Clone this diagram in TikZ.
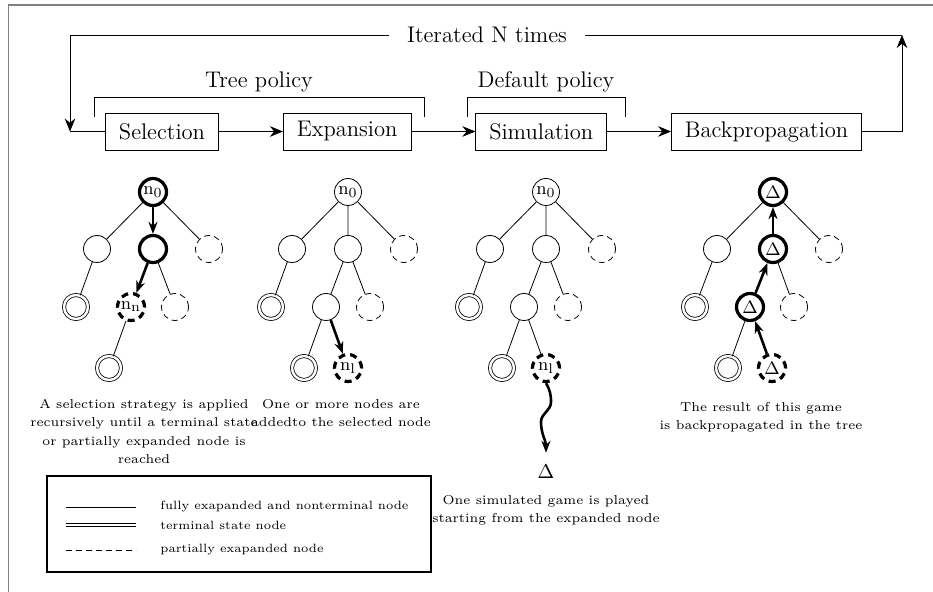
\documentclass[tikz,border=0pt]{standalone}
\usetikzlibrary{arrows.meta,positioning}
\begin{document}
\begin{tikzpicture}[x=0.5pt,y=-0.5pt,
    big/.style={font=\fontsize{11.3}{13.5}\selectfont},
    stage/.style={big,draw,rectangle,minimum height=18.5pt,inner xsep=6.75pt},
    st/.style={circle,draw,minimum size=13.5pt,inner sep=0pt,font=\fontsize{9.5}{11}\selectfont},
    term/.style={st,double,double distance=1.2pt,minimum size=12pt},
    part/.style={st,dash pattern=on 3pt off 2pt},
    hot/.style={st,line width=1.6pt},
    newleaf/.style={st,line width=1.6pt,dash pattern=on 3.5pt off 2.5pt},
    go/.style={-{Stealth[length=6pt,width=4.5pt]},line width=1.3pt},
    flow/.style={-{Stealth[length=6.5pt,width=5.3pt]}},
    note/.style={align=center,inner sep=0pt,font=\fontsize{6.45}{9.15}\selectfont},
    key/.style={anchor=west,inner sep=0pt,font=\fontsize{6}{8}\selectfont}]
  \useasboundingbox (0,0) rectangle (933,592);
  \draw[gray,line width=0.75pt] (8.5,592) -- (8.5,5) -- (933,5);

  % the four steps
  \node[stage] (sel) at (162,131.5) {Selection};
  \node[stage,right=32pt of sel] (exp) {Expansion};
  \node[stage,right=32pt of exp] (sim) {Simulation};
  \node[stage,right=32pt of sim] (bp) {Backpropagation};
  \draw[flow] (sel) -- (exp);
  \draw[flow] (exp) -- (sim);
  \draw[flow] (sim) -- (bp);

  % loop round the steps
  \node[big,inner xsep=9pt] (iter) at (487,35) {Iterated N times};
  \coordinate (tl) at (70,35);
  \coordinate (tr) at (902,35);
  \draw[flow] (iter.west) -- (tl) -- (tl |- sel.west);
  \draw (tl |- sel.west) -- (sel.west);
  \draw[flow] (bp.east) -- (tr |- bp.east) -- (tr);
  \draw (tr) -- (iter.east);

  % policies
  \draw (94,117) -- (94,97) -- (424,97) -- (424,117);
  \node[big] (tree) at (259,82) {Tree policy};
  \draw (467,117) -- (467,97) -- (625,97) -- (625,117);
  \node[big] (default) at (546,82) {Default policy};

  % selection
  \begin{scope}[shift={(153,0)}]
    \node[hot] (s0) at (0,192) {$\mathrm{n}_0$};
    \node[st] (s1) at (-56,249) {};
    \node[hot] (s2) at (0,249) {};
    \node[part] (s3) at (56,249) {};
    \node[term] (s4) at (-77,307) {};
    \node[newleaf] (s5) at (-22,307) {$\mathrm{n}_\mathrm{n}$};
    \node[part] (s6) at (22,307) {};
    \node[term] (s7) at (-44,368) {};
  \end{scope}
  \draw (s0) -- (s1) (s0) -- (s3) (s1) -- (s4) (s2) -- (s6) (s5) -- (s7);
  \draw[go] (s0) -- (s2);
  \draw[go] (s2) -- (s5);
  \node[note,anchor=north] (c1) at (144,399) {A selection strategy is applied\\recursively until a terminal state\\or partially expanded node is\\reached};

  % expansion
  \begin{scope}[shift={(348,0)}]
    \node[st] (e0) at (0,192) {$\mathrm{n}_0$};
    \node[st] (e1) at (-56,249) {};
    \node[st] (e2) at (0,249) {};
    \node[part] (e3) at (56,249) {};
    \node[term] (e4) at (-77,307) {};
    \node[st] (e5) at (-22,307) {};
    \node[part] (e6) at (22,307) {};
    \node[term] (e7) at (-44,368) {};
    \node[newleaf] (e8) at (0,368) {$\mathrm{n}_\mathrm{l}$};
  \end{scope}
  \draw (e0) -- (e1) (e0) -- (e2) (e0) -- (e3) (e1) -- (e4) (e2) -- (e5) (e2) -- (e6) (e5) -- (e7);
  \draw[go] (e5) -- (e8);
  \node[note,anchor=north] (c2) at (341,399) {One or more nodes are\\addedto the selected node};

  % simulation
  \begin{scope}[shift={(546,0)}]
    \node[st] (m0) at (0,192) {$\mathrm{n}_0$};
    \node[st] (m1) at (-56,249) {};
    \node[st] (m2) at (0,249) {};
    \node[part] (m3) at (56,249) {};
    \node[term] (m4) at (-77,307) {};
    \node[st] (m5) at (-22,307) {};
    \node[part] (m6) at (22,307) {};
    \node[term] (m7) at (-44,368) {};
    \node[newleaf] (m8) at (0,368) {$\mathrm{n}_\mathrm{l}$};
    \node[inner sep=6pt,font=\fontsize{10}{12}\selectfont] (res) at (0,472) {$\Delta$};
  \end{scope}
  \draw (m0) -- (m1) (m0) -- (m2) (m0) -- (m3) (m1) -- (m4) (m2) -- (m5) (m2) -- (m6) (m5) -- (m7) (m5) -- (m8);
  \draw[go] (m8.south) to[out=-60,in=90] (551,402) to[out=-90,in=90] (541,422) to[out=-90,in=90] (res.north);
  \node[note,anchor=north] (c3) at (546,495) {One simulated game is played\\starting from the expanded node};

  % backpropagation
  \begin{scope}[shift={(773,0)}]
    \node[hot] (b0) at (0,192) {$\Delta$};
    \node[st] (b1) at (-56,249) {};
    \node[hot] (b2) at (0,249) {$\Delta$};
    \node[part] (b3) at (56,249) {};
    \node[term] (b4) at (-78,307) {};
    \node[hot] (b5) at (-23,307) {$\Delta$};
    \node[part] (b6) at (21,307) {};
    \node[term] (b7) at (-45,368) {};
    \node[newleaf] (b8) at (-1,368) {$\Delta$};
  \end{scope}
  \draw (b0) -- (b1) (b0) -- (b3) (b1) -- (b4) (b2) -- (b6) (b5) -- (b7);
  \draw[go] (b8) -- (b5);
  \draw[go] (b5) -- (b2);
  \draw[go] (b2) -- (b0);
  \node[note,anchor=north] (c4) at (761,402) {The result of this game\\is backpropagated in the tree};

  % legend
  \draw[line width=0.6pt] (47,476) rectangle (431,572);
  \draw (66,507) -- (136,507);
  \draw[double,double distance=1.3pt] (66,525) -- (136,525);
  \draw[dash pattern=on 3pt off 2pt] (66,550) -- (136,550);
  \node[key] (l1) at (160,507) {fully exapanded and nonterminal node};
  \node[key] (l2) at (160,525) {terminal state node};
  \node[key] (l3) at (160,550) {partially exapanded node};
\end{tikzpicture}
\end{document}
